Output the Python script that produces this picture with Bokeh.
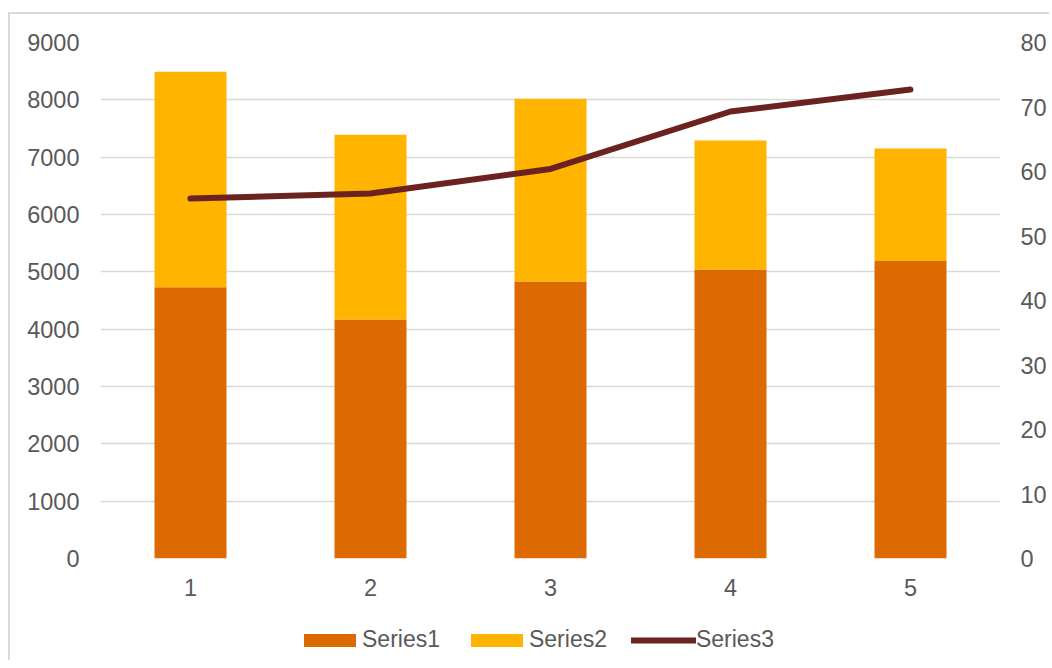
from bokeh.plotting import figure
from bokeh.layouts import column
from bokeh.models import (Range1d, LinearAxis, FixedTicker, Legend, LegendItem,
                          FactorRange)
from bokeh.embed import file_html
from bokeh.resources import INLINE

categories = ["1", "2", "3", "4", "5"]
series1 = [4730, 4170, 4830, 5040, 5190]
series2 = [3760, 3220, 3190, 2250, 1960]
series3 = [55.8, 56.6, 60.4, 69.3, 72.7]
left_ticks = [0, 1000, 2000, 3000, 4000, 5000, 6000, 7000, 8000, 9000]
right_ticks = [0, 10, 20, 30, 40, 50, 60, 70, 80]

C1 = "#DC6A00"
C2 = "#FFB400"
C3 = "#6B2220"
TXT = "#595959"
GRID = "#D9D9D9"
FONT = "Liberation Sans"
FS = "23.5px"

p = figure(frame_width=900, frame_height=516, output_backend="svg",
           toolbar_location=None,
           x_range=FactorRange(factors=categories, range_padding=0),
           y_range=Range1d(0, 9000),
           min_border_left=90, min_border_right=40, min_border_top=28,
           min_border_bottom=52)
p.extra_y_ranges = {"right": Range1d(0, 80)}
p.outline_line_color = None
p.background_fill_color = "white"
p.border_fill_color = "white"

src = dict(cat=categories, Series1=series1, Series2=series2)
bars = p.vbar_stack(["Series1", "Series2"], x="cat", width=0.4, source=src,
                    color=[C1, C2], line_color=None)
ln = p.line(x=categories, y=series3, y_range_name="right", line_color=C3,
            line_width=6, line_cap="round", line_join="round")

# axes
p.yaxis.ticker = FixedTicker(ticks=left_ticks)
raxis = LinearAxis(y_range_name="right", ticker=FixedTicker(ticks=right_ticks))
p.add_layout(raxis, "right")
for ax in [p.yaxis[0], raxis, p.xaxis[0]]:
    ax.axis_line_color = None
    ax.major_tick_line_color = None
    ax.minor_tick_line_color = None
    ax.major_tick_out = 0
    ax.major_tick_in = 0
    ax.major_label_text_font = FONT
    ax.major_label_text_font_size = FS
    ax.major_label_text_color = TXT
p.yaxis[0].major_label_standoff = 21
raxis.major_label_standoff = 20
p.xaxis[0].major_label_standoff = 20

p.xgrid.grid_line_color = None
p.ygrid.grid_line_color = GRID
p.ygrid.grid_line_width = 1.5

# legend strip (same series, zero-width and far outside its visible range; only the legend shows)
lp = figure(width=1030, height=50, output_backend="svg", toolbar_location=None,
            x_range=FactorRange(factors=categories, range_padding=0),
            y_range=Range1d(-20000, -10000), x_axis_location=None,
            y_axis_location=None, min_border=0)
lp.outline_line_color = None
lp.grid.visible = False
lbars = lp.vbar_stack(["Series1", "Series2"], x="cat", width=0, source=src,
                      color=[C1, C2], line_color=None)
lln = lp.line(x=categories, y=series3, line_color=C3, line_width=6,
              line_cap="round")

legend = Legend(items=[LegendItem(label="Series1", renderers=[lbars[0]]),
                       LegendItem(label="Series2", renderers=[lbars[1]]),
                       LegendItem(label="Series3", renderers=[lln])],
                orientation="horizontal", location=(197, 7),
                glyph_width=65, glyph_height=16, label_standoff=0, spacing=24,
                label_text_font=FONT, label_text_font_size="23px",
                label_text_color=TXT, border_line_color=None,
                background_fill_alpha=0, padding=6, margin=0)
lp.add_layout(legend, "center")

layout = column(p, lp, spacing=0)
layout.styles = {"border-left": "2px solid #D9D9D9", "border-top": "2px solid #D9D9D9",
                 "margin-top": "12px", "margin-left": "8px"}

open("out.html", "w").write(file_html(layout, INLINE))
